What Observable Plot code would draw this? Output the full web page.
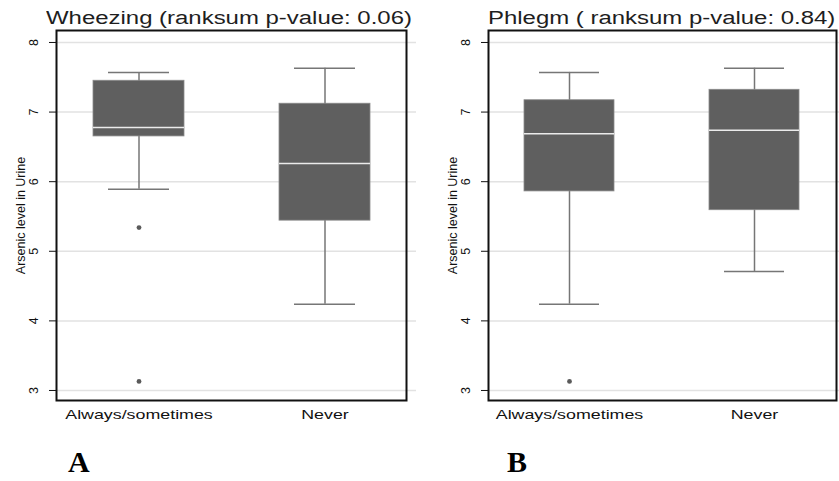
<!DOCTYPE html>
<html><head><meta charset="utf-8">
<script src="https://cdn.jsdelivr.net/npm/d3@7"></script>
<script src="https://cdn.jsdelivr.net/npm/@observablehq/plot@0.6"></script>
<style>
body{margin:0;background:#fff;}
#wrap{position:relative;width:839px;height:481px;overflow:hidden;background:#fff;font-family:"Liberation Sans",Arial,sans-serif;}
.panel{position:absolute;top:0;}
.title{position:absolute;top:9px;font-size:18px;line-height:18px;white-space:nowrap;color:#1e1e1e;transform-origin:0 0;transform:scaleX(1.33);}
.tag{position:absolute;top:447px;font-family:"Liberation Serif","Times New Roman",serif;font-weight:bold;font-size:30px;line-height:30px;color:#000;}
</style></head><body><div id="wrap"></div>
<script>
// Categories and ticks
const groups = ["Always/sometimes", "Never"];
const yTicks = [3, 4, 5, 6, 7, 8];

// Panel A: Wheezing
const wheezeTitle = "Wheezing (ranksum p-value: 0.06)";
const wheezeLow = [5.89, 4.24];
const wheezeQ1 = [6.65, 5.44];
const wheezeMedian = [6.78, 6.26];
const wheezeQ3 = [7.45, 7.12];
const wheezeHigh = [7.57, 7.63];
const wheezeOutGroup = ["Always/sometimes", "Always/sometimes"];
const wheezeOutValue = [5.34, 3.13];

// Panel B: Phlegm
const phlegmTitle = "Phlegm ( ranksum p-value: 0.84)";
const phlegmLow = [4.24, 4.71];
const phlegmQ1 = [5.86, 5.59];
const phlegmMedian = [6.69, 6.74];
const phlegmQ3 = [7.17, 7.32];
const phlegmHigh = [7.57, 7.63];
const phlegmOutGroup = ["Always/sometimes"];
const phlegmOutValue = [3.13];

const yLabel = "Arsenic level in Urine";
const tags = ["A", "B"];

function rowsOf(lo, q1, med, q3, hi) {
  return groups.map((g, i) => ({group: g, lo: lo[i], q1: q1[i], median: med[i], q3: q3[i], hi: hi[i]}));
}
function outsOf(gs, vs) { return gs.map((g, i) => ({group: g, value: vs[i]})); }

function panel(rows, outliers, width, marginRight) {
  const whisker = {stroke: "#767676", strokeWidth: 1.5};
  return Plot.plot({
    width, height: 430,
    marginLeft: 56, marginRight, marginTop: 30, marginBottom: 30,
    style: {fontFamily: "'Liberation Sans', Arial, sans-serif", fontSize: "12px", color: "#111", overflow: "visible", background: "transparent"},
    x: {type: "band", domain: groups, paddingInner: 0.511, paddingOuter: 0.196},
    y: {domain: [2.856, 8.172]},
    marks: [
      Plot.gridY(yTicks, {stroke: "#e2e2e2", strokeOpacity: 1, strokeWidth: 1.5, insetRight: -10}),
      Plot.ruleX(rows, {x: "group", y1: "lo", y2: "hi", ...whisker}),
      Plot.tickY(rows, {x: "group", y: "lo", insetLeft: 15, insetRight: 15, ...whisker}),
      Plot.tickY(rows, {x: "group", y: "hi", insetLeft: 15, insetRight: 15, ...whisker}),
      Plot.barY(rows, {x: "group", y1: "q1", y2: "q3", fill: "#5f5f5f", stroke: "#8a8a8a", strokeWidth: 0.8}),
      Plot.tickY(rows, {x: "group", y: "median", stroke: "#ebebeb", strokeWidth: 1.5}),
      Plot.dot(outliers, {x: "group", y: "value", r: 2.4, fill: "#5a5a5a", stroke: null}),
      Plot.frame({stroke: "#111", strokeWidth: 2}),
      Plot.axisY({ticks: yTicks, tickFormat: () => "", tickSize: 7, tickPadding: 0,
                  label: yLabel, labelAnchor: "center", labelOffset: 40, labelArrow: "none", fontSize: 12}),
      // vertical tick labels, rotated like the y label
      Plot.text(yTicks, {y: d => d, text: d => String(d), frameAnchor: "left", dx: -23, rotate: -90,
                         textAnchor: "middle", lineAnchor: "middle", fontSize: 12.5, fill: "#111"}),
      Plot.axisX({tickSize: 0, tickPadding: 9, label: null, fontSize: 13})
    ]
  });
}

const wrap = document.getElementById("wrap");
const specs = [
  {left: 0, width: 420, mr: 14, rows: rowsOf(wheezeLow, wheezeQ1, wheezeMedian, wheezeQ3, wheezeHigh), outs: outsOf(wheezeOutGroup, wheezeOutValue), title: wheezeTitle, titleLeft: 46, tagLeft: 68},
  {left: 432, width: 407, mr: 3, rows: rowsOf(phlegmLow, phlegmQ1, phlegmMedian, phlegmQ3, phlegmHigh), outs: outsOf(phlegmOutGroup, phlegmOutValue), title: phlegmTitle, titleLeft: 488, tagLeft: 507}
];
specs.forEach((s, i) => {
  const div = document.createElement("div");
  div.className = "panel";
  div.style.left = s.left + "px";
  const svg = panel(s.rows, s.outs, s.width, s.mr);
  div.appendChild(svg);
  wrap.appendChild(div);
  // widen horizontal x labels to match the stretched look of the original
  svg.querySelectorAll('g[aria-label="x-axis tick label"] text').forEach(t => {
    const w = t.getComputedTextLength();
    t.setAttribute("textLength", (w * 1.37).toFixed(1));
    t.setAttribute("lengthAdjust", "spacingAndGlyphs");
  });
  svg.querySelectorAll('g[aria-label="y-axis label"] text').forEach(t => {
    t.style.fontSize = "12.5px";
  });
  const title = document.createElement("div");
  title.className = "title";
  title.style.left = s.titleLeft + "px";
  title.textContent = s.title;
  wrap.appendChild(title);
  const tag = document.createElement("div");
  tag.className = "tag";
  tag.style.left = s.tagLeft + "px";
  tag.textContent = tags[i];
  wrap.appendChild(tag);
});
</script></body></html>
